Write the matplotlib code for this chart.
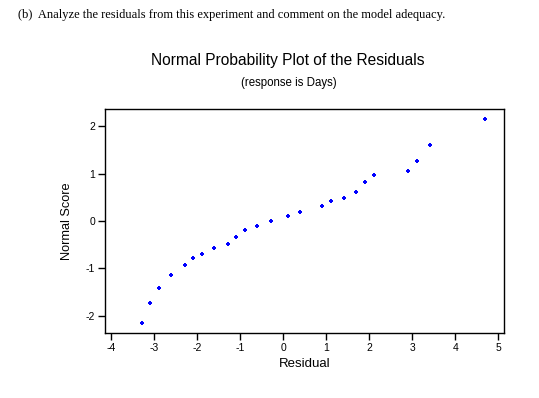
import matplotlib
matplotlib.use("Agg")
import matplotlib.pyplot as plt

residuals = [-3.29, -3.09, -2.88, -2.60, -2.29, -2.09, -1.89, -1.60, -1.29, -1.09,
             -0.89, -0.60, -0.29, 0.11, 0.40, 0.90, 1.10, 1.41, 1.70, 1.90,
             2.10, 2.90, 3.10, 3.41, 4.69]
normal_scores = [-2.16, -1.74, -1.41, -1.13, -0.93, -0.79, -0.70, -0.58, -0.49, -0.34,
                 -0.18, -0.10, 0.00, 0.10, 0.18, 0.32, 0.42, 0.48, 0.62, 0.82,
                 0.96, 1.06, 1.27, 1.61, 2.15]
xticks = [-4, -3, -2, -1, 0, 1, 2, 3, 4, 5]
yticks = [-2, -1, 0, 1, 2]

plt.rcParams['font.family'] = ['Liberation Sans', 'DejaVu Sans']
fig = plt.figure(figsize=(5.39, 3.98), dpi=100)
W, H = 539, 398
ax = fig.add_axes([105 / W, 1 - 333 / H, (504 - 105) / W, (333 - 109) / H])

ax.scatter(residuals, normal_scores, marker='P', s=11, color='#0000ff', linewidths=0)
ax.set_xlim(-4.14, 5.13)
ax.set_ylim(-2.363, 2.363)
ax.set_xticks(xticks)
ax.set_xticklabels([str(t) for t in xticks])
ax.set_yticks(yticks)
ax.set_yticklabels([str(t) for t in yticks])
ax.tick_params(direction='out', length=5, width=1, labelsize=7.5, colors='black', pad=2)
for s in ax.spines.values():
    s.set_linewidth(1)
ax.set_xlabel('Residual', fontsize=9.5, labelpad=4)
ax.set_ylabel('Normal Score', fontsize=9.2, labelpad=9)

fig.text(288 / W, 1 - 61 / H, 'Normal Probability Plot of the Residuals',
         ha='center', va='center', fontsize=11.2)
fig.text(289 / W, 1 - 83 / H, '(response is Days)', ha='center', va='center', fontsize=8.3)
fig.text(18 / W, 1 - 15 / H, '(b)  Analyze the residuals from this experiment and comment on the model adequacy.',
         ha='left', va='center', fontsize=9, family=['Liberation Serif', 'DejaVu Serif'])

fig.savefig('out.png', dpi=100)
